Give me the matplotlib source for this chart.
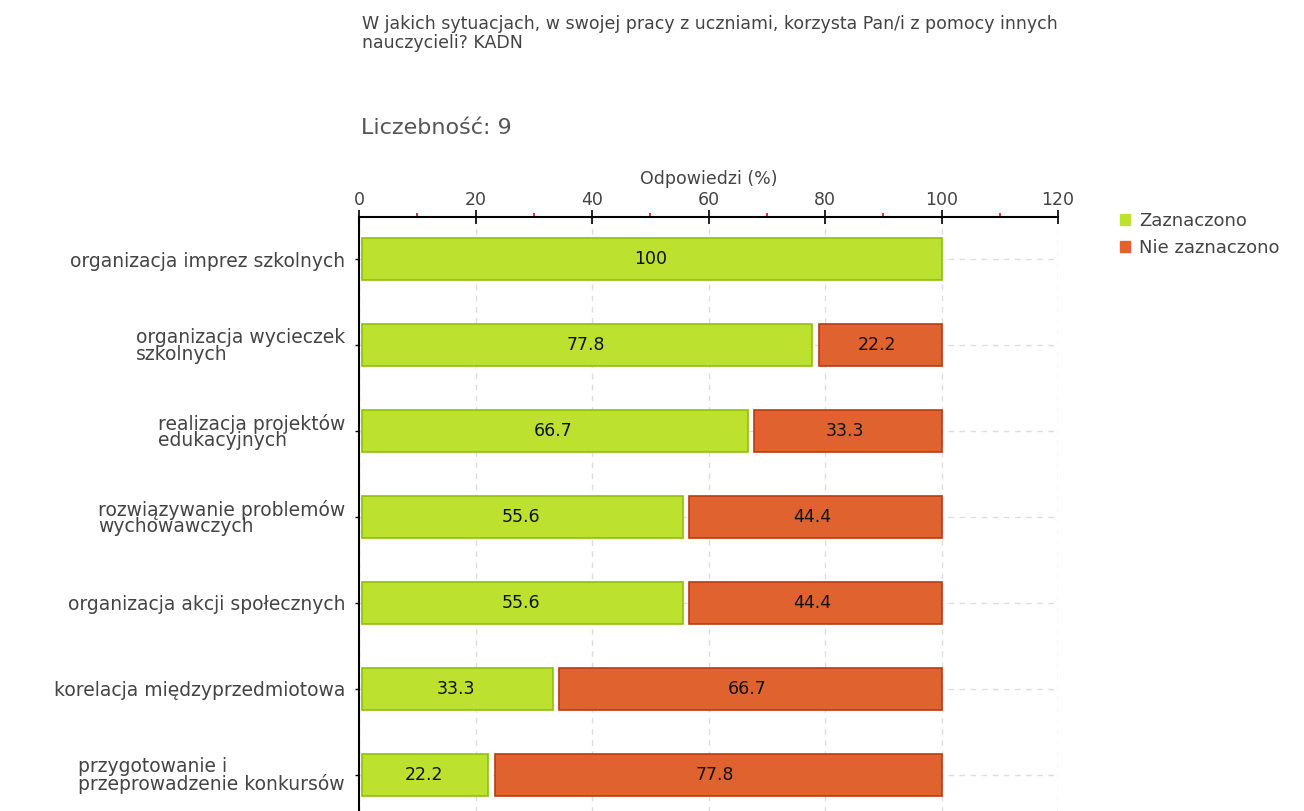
import matplotlib
matplotlib.use("Agg")
import matplotlib.pyplot as plt
import numpy as np
from matplotlib.patches import Patch

plt.rcParams["font.family"] = ["DejaVu Sans"]

categories = [
    "organizacja imprez szkolnych",
    "organizacja wycieczek\nszkolnych",
    "realizacja projektów\nedukacyjnych",
    "rozwiązywanie problemów\nwychowawczych",
    "organizacja akcji społecznych",
    "korelacja międzyprzedmiotowa",
    "przygotowanie i\nprzeprowadzenie konkursów",
]
zaznaczono = [100, 77.8, 66.7, 55.6, 55.6, 33.3, 22.2]
nie_zaznaczono = [0, 22.2, 33.3, 44.4, 44.4, 66.7, 77.8]
series_names = ["Zaznaczono", "Nie zaznaczono"]
xticks = [0, 20, 40, 60, 80, 100, 120]

title = "W jakich sytuacjach, w swojej pracy z uczniami, korzysta Pan/i z pomocy innych\nnauczycieli? KADN"
subtitle = "Liczebność: 9"
xlabel = "Odpowiedzi (%)"

green_fill = "#bce12e"
green_edge = "#8fbf10"
orange_fill = "#e0632f"
orange_edge = "#b83c10"
text_gray = "#444444"

W, H = 1304, 811
fig = plt.figure(figsize=(W / 100, H / 100), dpi=100)
left, right, top, bottom = 359, 1058, 217, 817
ax = fig.add_axes([left / W, 1 - bottom / H, (right - left) / W, (bottom - top) / H])

n = len(categories)
y = np.arange(n)
bar_h = 0.49

for i in range(n):
    g = zaznaczono[i]
    o = nie_zaznaczono[i]
    if g > 0:
        ax.barh(y[i], g - 0.6, left=0.6, height=bar_h, color=green_fill,
                edgecolor=green_edge, linewidth=1.2, zorder=3)
        ax.text(g / 2, y[i], f"{g:g}", ha="center", va="center", fontsize=12.5,
                color="#111111", zorder=4)
    if o > 0:
        ax.barh(y[i], o - 1.1, left=g + 1.1, height=bar_h, color=orange_fill,
                edgecolor=orange_edge, linewidth=1.2, zorder=3)
        ax.text(g + o / 2, y[i], f"{o:g}", ha="center", va="center", fontsize=12.5,
                color="#111111", zorder=4)

ax.set_xlim(0, 120)
ax.set_ylim(n - 1 + 0.49, -0.49)

ax.xaxis.tick_top()
ax.xaxis.set_label_position("top")
ax.set_xticks(xticks)
ax.set_xticks(np.arange(10, 120, 20), minor=True)
ax.tick_params(axis="x", which="major", direction="inout", length=10, width=1.2,
               color="black", labelsize=12.5, labelcolor=text_gray, pad=1)
ax.tick_params(axis="x", which="minor", direction="out", length=3, width=1.2,
               color="red")
ax.set_xlabel(xlabel, fontsize=12.5, color=text_gray, labelpad=5)

ax.set_yticks(y)
ax.set_yticklabels(categories, fontsize=13.5, color=text_gray, linespacing=0.85)
ax.tick_params(axis="y", direction="out", length=3, width=1, color="black", pad=7)
for lab in ax.get_yticklabels():
    lab.set_multialignment("left")

for s in ["right", "bottom"]:
    ax.spines[s].set_visible(False)
ax.spines["top"].set_linewidth(1.5)
ax.spines["left"].set_linewidth(1.5)

ax.grid(True, axis="both", which="major", linestyle=(0, (4, 4)), color="#dddddd",
        linewidth=1, zorder=0)
ax.set_axisbelow(True)

fig.text(362 / W, 1 - 15 / H, title, ha="left", va="top", fontsize=12.5,
         color=text_gray, linespacing=1.08)
fig.text(361 / W, 1 - 128 / H, subtitle, ha="left", va="center", fontsize=16,
         color="#555555")

handles = [Patch(facecolor=green_fill, edgecolor=green_fill),
           Patch(facecolor=orange_fill, edgecolor=orange_fill)]
leg = fig.legend(handles, series_names, loc="upper left",
                 bbox_to_anchor=(1120 / W, 1 - 212 / H), frameon=False,
                 fontsize=13, handlelength=0.55, handleheight=0.55, handletextpad=0.5,
                 labelspacing=0.5, borderaxespad=0, borderpad=0)
for t in leg.get_texts():
    t.set_color(text_gray)

fig.savefig("out.png", dpi=100)
